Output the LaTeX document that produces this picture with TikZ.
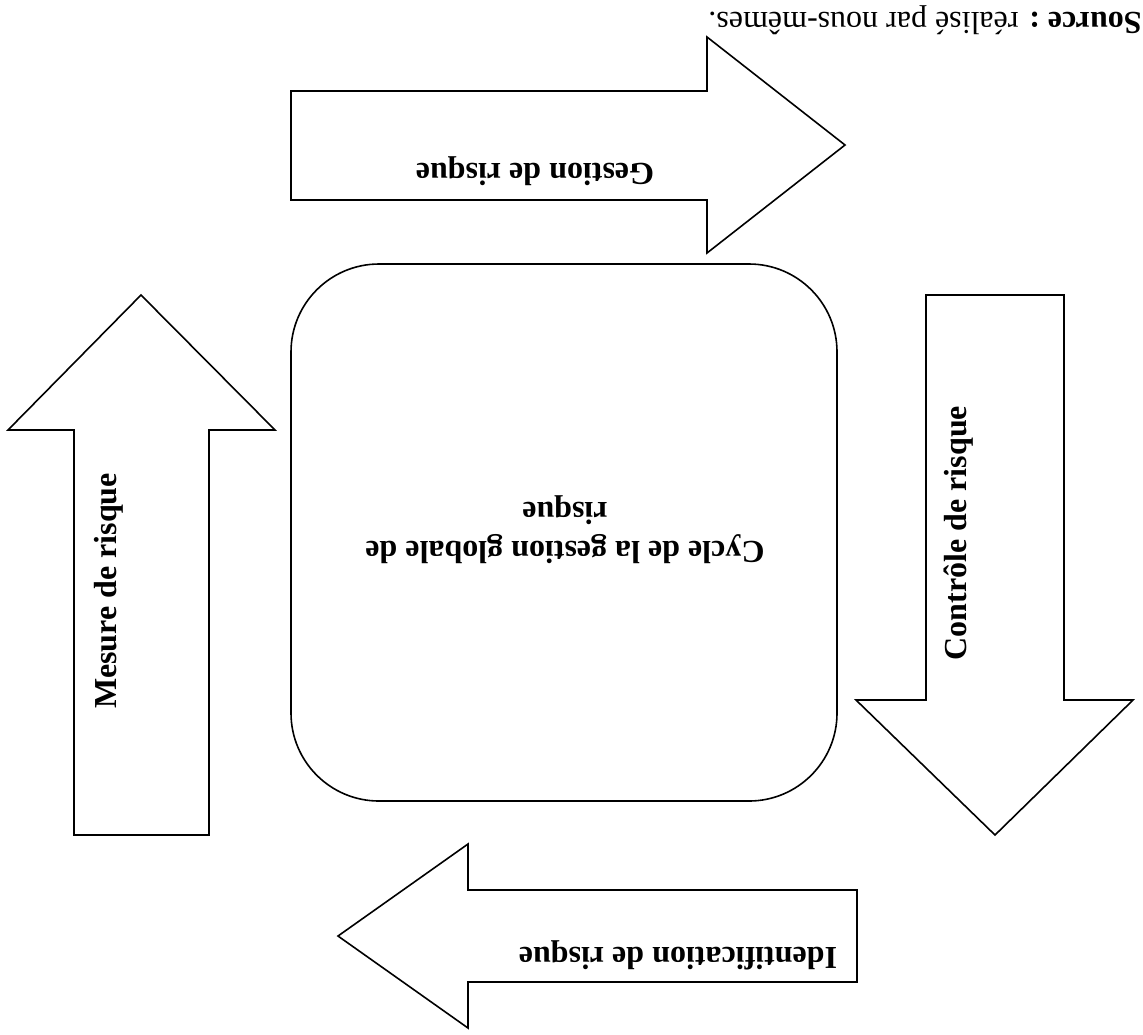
\documentclass[tikz,border=0pt]{standalone}
\usepackage{fontspec}
\setmainfont{Liberation Serif}
\begin{document}
\begin{tikzpicture}[x=0.5pt,y=-0.5pt,
  shapeline/.style={draw=black,line width=0.8pt,fill=white,line join=miter},
  lbl/.style={inner sep=0pt,font=\fontsize{16}{18.5}\selectfont\bfseries},
  srclbl/.style={inner sep=0pt,font=\fontsize{16}{18.5}\selectfont}]
\useasboundingbox (0,0) rectangle (1143,1034);
% top arrow (points right)
\draw[shapeline] (291,91) -- (707,91) -- (707,37) -- (845,145) -- (707,253) -- (707,200) -- (291,200) -- cycle;
% right arrow (points down)
\draw[shapeline] (926,295) -- (1064,295) -- (1064,700) -- (1133,700) -- (995,835) -- (856,700) -- (926,700) -- cycle;
% bottom arrow (points left)
\draw[shapeline] (857,890) -- (468,890) -- (468,844) -- (338,936) -- (468,1028) -- (468,982) -- (857,982) -- cycle;
% left arrow (points up)
\draw[shapeline] (74,835) -- (74,430) -- (8,430) -- (141,295) -- (275,430) -- (209,430) -- (209,835) -- cycle;
% central rounded box
\draw[shapeline,rounded corners=44pt] (291,264) rectangle (837,801);
% labels
\node[srclbl,anchor=base,rotate=180] (src) at (925,12) {\textbf{Source :} r\'{e}alis\'{e} par nous-m\^{e}mes.};
\node[lbl,anchor=base,rotate=180] (gest) at (535,163) {Gestion de risque};
\node[lbl,anchor=base,rotate=90] (ctrl) at (966,533) {Contr\^{o}le de risque};
\node[lbl,anchor=base,rotate=180] (ident) at (678,947) {Identification de risque};
\node[lbl,anchor=base,rotate=90] (mes) at (116,591) {Mesure de risque};
\node[lbl,align=center,rotate=180,font=\fontsize{16}{19.5}\selectfont\bfseries] (cycle) at (565,530) {Cycle de la gestion globale de\\risque};
\end{tikzpicture}
\end{document}
